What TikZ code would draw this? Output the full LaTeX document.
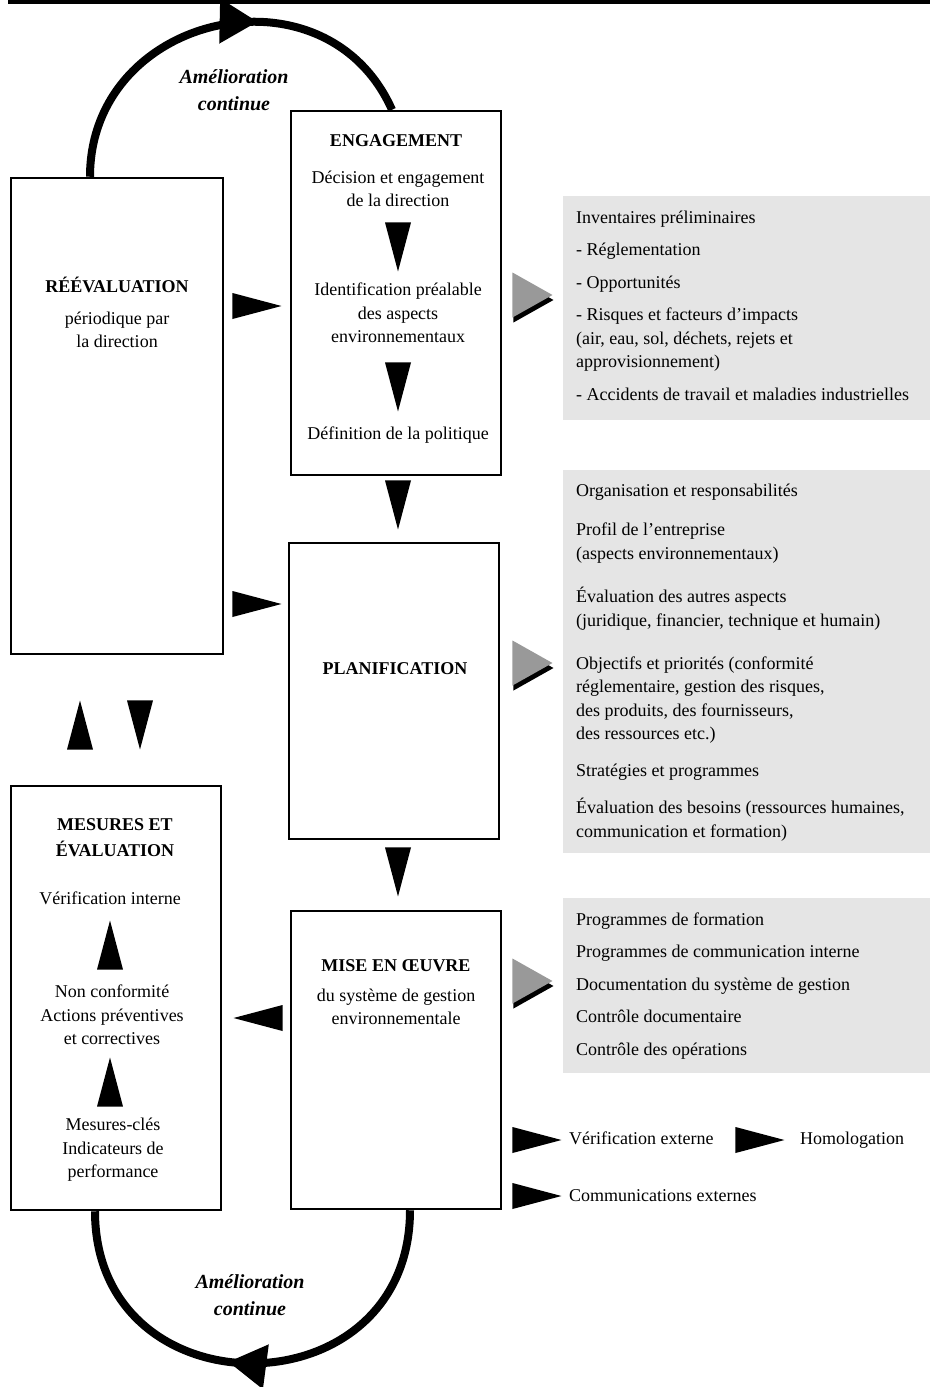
\documentclass[tikz,border=0pt]{standalone}
\usepackage{fontspec}
\setmainfont{Liberation Serif}
\usetikzlibrary{arrows.meta,shapes.geometric,decorations.markings,shadows}
\tikzset{
  stage/.style={draw=black, line width=2.5pt},
  panel/.style={fill=black!10, inner sep=0pt},
  txt/.style={font=\fontsize{18}{23.5}\selectfont, align=center, inner sep=0pt},
  head/.style={font=\bfseries\fontsize{18}{26}\selectfont, align=center, inner sep=0pt},
  loopnote/.style={font=\bfseries\itshape\fontsize{20}{27}\selectfont, align=center, inner sep=0pt},
  items/.style={font=\fontsize{18}{23.5}\selectfont, align=left, inner sep=0pt, anchor=base west},
  tri/.style={isosceles triangle, isosceles triangle stretches, fill=black, inner sep=0pt, minimum width=26pt, minimum height=49pt, anchor=apex},
  tridown/.style={tri, rotate=-90},
  triup/.style={tri, rotate=90},
  trileft/.style={tri, rotate=180},
  grytri/.style={tri, fill=black!40, minimum width=45pt, minimum height=40pt, drop shadow={shadow xshift=1pt, shadow yshift=-5pt, fill=black, opacity=1}},
  loopline/.style={line width=8pt},
  looptip/.style={postaction=decorate, decoration={markings, mark=at position #1 with {\arrow{Triangle[length=38pt, width=43pt]}}}}
}
\begin{document}
\begin{tikzpicture}[x=1pt, y=1pt]
  \useasboundingbox (0,0) rectangle (930,-1387);
  \draw[line width=4pt] (8,-2) -- (930,-2);

  \node[stage, minimum width=212pt, minimum height=476pt] (reev) at (117,-416) {};
  \node[stage, minimum width=210pt, minimum height=364pt] (eng) at (396,-293) {};
  \node[stage, minimum width=210pt, minimum height=296pt] (plan) at (394,-691) {};
  \node[stage, minimum width=210pt, minimum height=424pt] (mes) at (116,-998) {};
  \node[stage, minimum width=210pt, minimum height=298pt] (mise) at (396,-1060) {};

  \node[panel, minimum width=367pt, minimum height=224pt] (g1) at (746.5,-308) {};
  \node[panel, minimum width=367pt, minimum height=383pt] (g2) at (746.5,-661.5) {};
  \node[panel, minimum width=367pt, minimum height=175pt] (g3) at (746.5,-985.5) {};

  \node[head] (reevT) at (117,-285) {RÉÉVALUATION};
  \node[txt] (reevS) at (117,-330) {périodique par\\la direction};

  \node[head] (engT) at (396,-141) {ENGAGEMENT};
  \node[txt] (engA) at (398,-189) {Décision et engagement\\de la direction};
  \node[tridown] (engAB) at (398,-272) {};
  \node[txt] (engB) at (398,-313) {Identification préalable\\des aspects\\environnementaux};
  \node[tridown] (engBC) at (398,-412) {};
  \node[txt] (engC) at (398,-435) {Définition de la politique};

  \node[head] (planT) at (395,-669) {PLANIFICATION};

  \node[head] (mesT) at (115,-838) {MESURES ET\\ÉVALUATION};
  \node[txt] (mesA) at (110,-898) {Vérification interne};
  \node[triup] (mesBA) at (110,-920) {};
  \node[txt] (mesB) at (112,-1015) {Non conformité\\Actions préventives\\et correctives};
  \node[triup] (mesCB) at (110,-1057) {};
  \node[txt] (mesC) at (113,-1150) {Mesures-clés\\Indicateurs de\\performance};

  \node[head] (miseT) at (396,-966) {MISE EN ŒUVRE};
  \node[txt] (miseS) at (396,-1007) {du système de gestion\\environnementale};

  \node[tridown] (engplan) at (398,-530) {};
  \node[tridown] (planmise) at (398,-897) {};
  \node[tri] (reeveng) at (282,-306) {};
  \node[tri] (reevplan) at (282,-604) {};
  \node[trileft] (misemes) at (233,-1018) {};
  \node[triup] (mesreev) at (80,-700) {};
  \node[tridown] (reevmes) at (140,-750) {};

  \node[grytri] (engg) at (553,-295) {};
  \node[grytri] (plang) at (553,-663) {};
  \node[grytri] (miseg) at (553,-981) {};

  \node[items] (engL) at (576,-400) {Inventaires préliminaires\\[9pt]- Réglementation\\[9pt]- Opportunités\\[9pt]- Risques et facteurs d'impacts\\(air, eau, sol, déchets, rejets et\\approvisionnement)\\[9pt]- Accidents de travail et maladies industrielles};
  \node[items] (planL) at (576,-837) {Organisation et responsabilités\\[16pt]Profil de l'entreprise\\(aspects environnementaux)\\[20pt]Évaluation des autres aspects\\(juridique, financier, technique et humain)\\[19.5pt]Objectifs et priorités (conformité\\réglementaire, gestion des risques,\\des produits, des fournisseurs,\\des ressources etc.)\\[13.5pt]Stratégies et programmes\\[13.5pt]Évaluation des besoins (ressources humaines,\\communication et formation)};
  \node[items] (miseL) at (576,-1055) {Programmes de formation\\[9pt]Programmes de communication interne\\[9pt]Documentation du système de gestion\\[9pt]Contrôle documentaire\\[9pt]Contrôle des opérations};

  \node[tri] (miseV) at (562,-1140) {};
  \node[items] (verif) at (569,-1144) {Vérification externe};
  \node[tri] (verifH) at (785,-1140) {};
  \node[items] (homol) at (800,-1144) {Homologation};
  \node[tri] (miseC) at (562,-1196) {};
  \node[items] (comm) at (569,-1201) {Communications externes};

  \draw[loopline, looptip=0.6] ([xshift=-27pt]reev.north) to[out=90, in=114, looseness=1.35] ([xshift=-4pt]eng.north);
  \draw[loopline, looptip=0.55] ([xshift=14pt]mise.south) to[out=-90, in=-90, looseness=1.65] ([xshift=-21pt]mes.south);
  \node[loopnote] (topnote) at (234,-90) {Amélioration\\continue};
  \node[loopnote] (botnote) at (250,-1295) {Amélioration\\continue};
\end{tikzpicture}
\end{document}
